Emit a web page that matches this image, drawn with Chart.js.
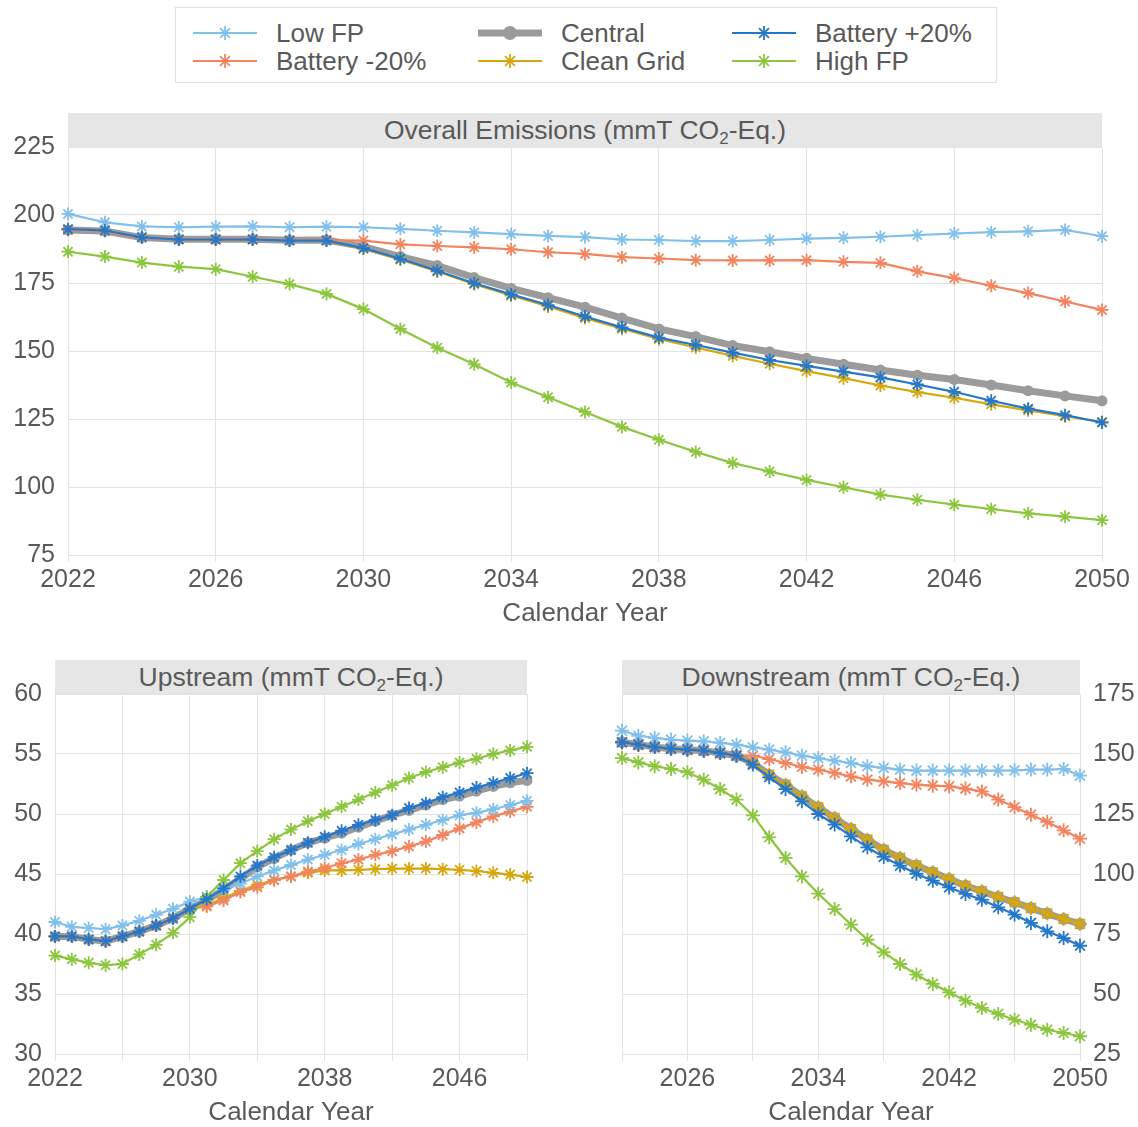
<!DOCTYPE html>
<html><head><meta charset="utf-8">
<script src="https://cdn.jsdelivr.net/npm/chart.js@4.4.1/dist/chart.umd.min.js"></script>
<style>
html,body{margin:0;padding:0;background:#fff;}
#wrap{position:relative;width:1138px;height:1127px;overflow:hidden;font-family:'Liberation Sans',Arial,sans-serif;color:#595959;background:#fff;}
canvas{position:absolute;}
.hdr{position:absolute;background:#e6e6e6;height:34px;line-height:34px;text-align:center;font-size:26.5px;color:#595959;white-space:nowrap;}
.hdr sub{font-size:17px;vertical-align:-5px;line-height:0;}
#legend{position:absolute;left:175px;top:7px;width:820px;height:74px;border:1px solid #e0e0e0;}
.li{position:absolute;height:28px;font-size:26px;line-height:28px;white-space:nowrap;}
.li svg{position:absolute;top:4px;}
</style></head>
<body>
<div id="wrap">
  <div id="legend"></div>
  <div class="hdr" id="h1" style="left:68px;top:113px;width:1034px;">Overall Emissions (mmT CO<sub>2</sub>-Eq.)</div>
  <div class="hdr" id="h2" style="left:55px;top:660px;width:472px;">Upstream (mmT CO<sub>2</sub>-Eq.)</div>
  <div class="hdr" id="h3" style="left:622px;top:660px;width:458px;">Downstream (mmT CO<sub>2</sub>-Eq.)</div>
  <canvas id="c1" width="1138" height="530" style="left:0;top:100px;"></canvas>
  <canvas id="c2" width="575" height="488" style="left:0;top:640px;"></canvas>
  <canvas id="c3" width="563" height="488" style="left:575px;top:640px;"></canvas>
</div>
<script>
// ---------- DATA ----------
const YEARS = [2022,2023,2024,2025,2026,2027,2028,2029,2030,2031,2032,2033,2034,2035,2036,2037,2038,2039,2040,2041,2042,2043,2044,2045,2046,2047,2048,2049,2050];

const SERIES_LABELS = ['Low FP','Central','Battery +20%','Battery -20%','Clean Grid','High FP'];

// Overall Emissions (mmT CO2-Eq.)
const overall_lowFP    = [200.4,197.3,195.8,195.5,195.7,195.8,195.5,195.7,195.5,194.9,194.2,193.6,193.0,192.3,191.9,191.0,190.8,190.4,190.4,190.8,191.3,191.6,192.0,192.6,193.2,193.7,194.0,194.5,192.2];
const overall_central  = [194.5,194.1,191.7,191.1,191.1,191.1,190.7,190.8,188.4,184.7,181.4,177.0,173.0,169.6,166.1,162.1,158.1,155.3,152.0,149.7,147.3,145.1,143.0,141.1,139.5,137.5,135.4,133.5,131.7];
const overall_batPlus  = [194.8,194.3,191.8,191.0,191.0,191.0,190.6,190.6,187.8,183.9,179.5,174.9,170.8,166.9,162.7,158.7,154.9,152.2,149.4,146.7,144.5,142.4,140.3,137.7,135.0,131.7,128.8,126.4,123.7];
const overall_batMinus = [194.5,194.1,191.7,191.1,191.1,191.1,190.7,190.8,190.6,189.2,188.6,188.1,187.4,186.3,185.7,184.5,184.0,183.4,183.3,183.3,183.4,182.8,182.4,179.3,176.8,174.0,171.3,168.2,165.1];
const overall_clean    = [194.8,194.3,191.8,191.0,191.0,191.0,190.6,190.6,187.6,183.6,179.2,174.6,170.4,166.4,162.1,158.2,154.4,151.3,148.2,145.3,142.6,140.0,137.3,134.9,132.8,130.4,128.2,126.0,123.9];
const overall_highFP   = [186.5,184.7,182.5,181.0,180.1,177.3,174.6,171.0,165.4,158.1,151.2,145.1,138.4,133.0,127.6,122.1,117.4,112.9,108.8,105.7,102.6,99.9,97.2,95.3,93.5,91.9,90.3,89.1,87.8];

// Upstream (mmT CO2-Eq.)
const up_lowFP    = [41.0,40.6,40.5,40.4,40.7,41.1,41.6,42.1,42.7,43.1,43.7,44.2,44.8,45.3,45.75,46.2,46.6,47.0,47.5,47.9,48.3,48.7,49.1,49.5,49.9,50.1,50.4,50.75,51.1];
const up_central  = [39.8,39.8,39.55,39.4,39.8,40.2,40.7,41.3,42.1,42.8,43.7,44.6,45.6,46.3,47.0,47.6,48.0,48.4,48.9,49.4,49.9,50.3,50.75,51.2,51.5,51.9,52.3,52.6,52.8];
const up_batPlus  = [39.8,39.8,39.55,39.4,39.8,40.2,40.7,41.3,42.1,42.9,43.8,44.8,45.7,46.4,47.0,47.6,48.1,48.6,49.1,49.5,49.9,50.5,50.9,51.4,51.8,52.2,52.6,53.0,53.4];
const up_batMinus = [39.8,39.8,39.55,39.4,39.8,40.2,40.7,41.3,42.1,42.3,42.8,43.5,43.9,44.5,44.8,45.2,45.5,45.9,46.2,46.6,46.9,47.3,47.7,48.25,48.8,49.3,49.8,50.2,50.6];
const up_clean    = [39.8,39.8,39.55,39.4,39.8,40.2,40.7,41.3,42.1,42.4,43.0,43.6,44.1,44.5,44.8,45.1,45.3,45.3,45.35,45.4,45.45,45.45,45.45,45.4,45.35,45.25,45.1,44.95,44.75];
const up_highFP   = [38.2,37.9,37.6,37.4,37.5,38.3,39.1,40.1,41.4,43.1,44.5,45.9,46.9,47.9,48.7,49.4,50.0,50.6,51.2,51.8,52.4,53.0,53.5,53.9,54.3,54.6,55.0,55.3,55.6];

// Downstream (mmT CO2-Eq.)
const down_lowFP    = [159.7,157.6,156.7,156.0,155.6,155.3,154.6,153.9,152.8,151.8,150.7,149.3,148.3,147.2,146.25,144.9,144.2,143.5,143.1,143.1,143.1,143.1,143.1,143.1,143.2,143.5,143.5,143.75,141.0];
const down_central  = [154.9,153.9,152.9,152.2,151.8,151.4,150.4,149.3,146.25,141.4,137.2,132.4,127.8,123.3,118.75,114.3,110.1,106.7,103.5,100.7,97.9,95.1,92.8,90.4,88.2,85.8,83.5,81.25,79.2];
const down_batPlus  = [154.9,153.9,152.9,152.2,151.8,151.4,150.4,149.3,145.6,140.3,135.4,130.3,125.0,120.6,115.7,111.1,107.1,103.5,100.1,97.2,94.4,91.7,89.3,86.1,83.1,79.6,76.1,73.3,70.1];
const down_batMinus = [154.9,153.9,152.9,152.2,151.8,151.4,150.4,149.3,149.3,147.9,146.25,144.6,143.5,142.1,140.7,139.3,138.6,137.9,137.2,136.8,136.5,135.6,134.4,131.0,127.9,124.7,121.7,118.2,114.7];
const down_clean    = [154.9,153.9,152.9,152.2,151.8,151.4,150.4,149.3,146.25,141.4,137.2,132.4,127.8,123.3,118.75,114.3,110.1,106.7,103.5,100.7,97.9,95.1,92.8,90.4,88.2,85.8,83.5,81.25,79.2];
const down_highFP   = [148.3,146.5,144.9,143.75,142.4,139.3,135.4,131.0,124.4,115.3,106.7,99.0,91.8,85.4,78.9,72.6,67.4,62.5,58.1,54.2,50.7,47.2,44.2,41.7,39.3,37.2,35.1,33.75,32.4];

const OVERALL_TICKS = [75,100,125,150,175,200,225];
const UP_TICKS = [30,35,40,45,50,55,60];
const DOWN_TICKS = [25,50,75,100,125,150,175];
const OVERALL_XLABELS = [2022,2026,2030,2034,2038,2042,2046,2050];
const UP_XLABELS = [2022,2030,2038,2046];
const DOWN_XLABELS = [2026,2034,2042,2050];

// ---------- STYLE ----------
const STYLE = {
  'Low FP':       {color:'#82C0EC', pt:'star',   order:3},
  'Central':      {color:'#9B9B9B', pt:'circle', order:10},
  'Battery +20%': {color:'#2577C9', pt:'star',   order:1},
  'Battery -20%': {color:'#F2845F', pt:'star',   order:4},
  'Clean Grid':   {color:'#D6A80E', pt:'star',   order:5},
  'High FP':      {color:'#8CC63F', pt:'star',   order:2}
};
const FONT = "'Liberation Sans', Arial, sans-serif";
const TXT = '#595959';
const GRID = '#e3e3e3';
Chart.defaults.font.family = FONT;
Chart.defaults.color = TXT;

function datasets(vals, big){
  return SERIES_LABELS.map((lab,i)=>{
    const s = STYLE[lab];
    const isC = s.pt === 'circle';
    return {
      label: lab,
      data: YEARS.map((x,j)=>({x:x, y:vals[i][j]})),
      borderColor: s.color,
      backgroundColor: s.color,
      pointBackgroundColor: s.color,
      pointBorderColor: s.color,
      pointStyle: s.pt,
      pointRadius: isC ? (big ? 6 : 5.5) : (big ? 7 : 6.5),
      pointBorderWidth: isC ? 0 : 1.8,
      borderWidth: isC ? 7 : 2.2,
      tension: 0,
      order: s.order,
      clip: false
    };
  });
}

function makeChart(id, vals, yMin, yMax, yStep, yPos, xLabels, yWidth, padding, big){
  return new Chart(document.getElementById(id), {
    type: 'line',
    data: {datasets: datasets(vals, big)},
    options: {
      responsive: false, animation: false, devicePixelRatio: 1,
      layout: {padding: padding},
      plugins: {legend: {display:false}, tooltip: {enabled:false}},
      scales: {
        x: {
          type: 'linear', min: 2022, max: 2050,
          grid: {color: GRID, lineWidth: 1, drawTicks: true, tickLength: 7},
          border: {display: false},
          ticks: {stepSize: 4, autoSkip: false, maxRotation: 0, padding: 3,
                  font: {size: 25}, color: TXT,
                  callback: (v) => xLabels.includes(v) ? String(v) : ''},
          title: {display: true, text: 'Calendar Year', font: {size: 26}, color: TXT, padding: {top: 0, bottom: 0}},
          afterFit: (s) => { s.height = 74; }
        },
        y: {
          position: yPos, min: yMin, max: yMax,
          grid: {color: GRID, lineWidth: 1, drawTicks: false},
          border: {display: false},
          ticks: {stepSize: yStep, padding: 13, font: {size: 25}, color: TXT,
                  callback: (v) => String(v)},
          afterFit: (s) => { s.width = yWidth; }
        }
      }
    }
  });
}

makeChart('c1',
  [overall_lowFP, overall_central, overall_batPlus, overall_batMinus, overall_clean, overall_highFP],
  OVERALL_TICKS[0], OVERALL_TICKS[OVERALL_TICKS.length-1], 25, 'left', OVERALL_XLABELS, 68,
  {top: 47, left: 0, right: 36, bottom: 1}, false);
makeChart('c2',
  [up_lowFP, up_central, up_batPlus, up_batMinus, up_clean, up_highFP],
  UP_TICKS[0], UP_TICKS[UP_TICKS.length-1], 5, 'left', UP_XLABELS, 55,
  {top: 54, left: 0, right: 48, bottom: 0}, false);
makeChart('c3',
  [down_lowFP, down_central, down_batPlus, down_batMinus, down_clean, down_highFP],
  DOWN_TICKS[0], DOWN_TICKS[DOWN_TICKS.length-1], 25, 'right', DOWN_XLABELS, 58,
  {top: 54, left: 47, right: 0, bottom: 0}, true);

// ---------- LEGEND ----------
(function(){
  const lg = document.getElementById('legend');
  const colX = [17, 302, 556];
  const rowY = [11, 39];
  SERIES_LABELS.forEach((lab,i)=>{
    const s = STYLE[lab];
    const d = document.createElement('div');
    d.className = 'li';
    d.style.left = colX[i%3] + 'px';
    d.style.top = rowY[Math.floor(i/3)] + 'px';
    let mark;
    if (s.pt === 'circle') {
      mark = `<line x1="0" y1="10" x2="64" y2="10" stroke="${s.color}" stroke-width="7"/><circle cx="32" cy="10" r="7" fill="${s.color}"/>`;
    } else {
      const r = 7, q = r*0.7071;
      mark = `<line x1="0" y1="10" x2="64" y2="10" stroke="${s.color}" stroke-width="2.2"/>` +
        `<g stroke="${s.color}" stroke-width="1.8"><line x1="32" y1="${10-r}" x2="32" y2="${10+r}"/>` +
        `<line x1="${32-q}" y1="${10-q}" x2="${32+q}" y2="${10+q}"/><line x1="${32-q}" y1="${10+q}" x2="${32+q}" y2="${10-q}"/>` +
        `<line x1="${32-r}" y1="10" x2="${32+r}" y2="10"/></g>`;
    }
    d.innerHTML = `<svg width="64" height="20" style="left:0">${mark}</svg><span style="position:absolute;left:83px;top:0">${lab}</span>`;
    lg.appendChild(d);
  });
})();
</script>
</body></html>
